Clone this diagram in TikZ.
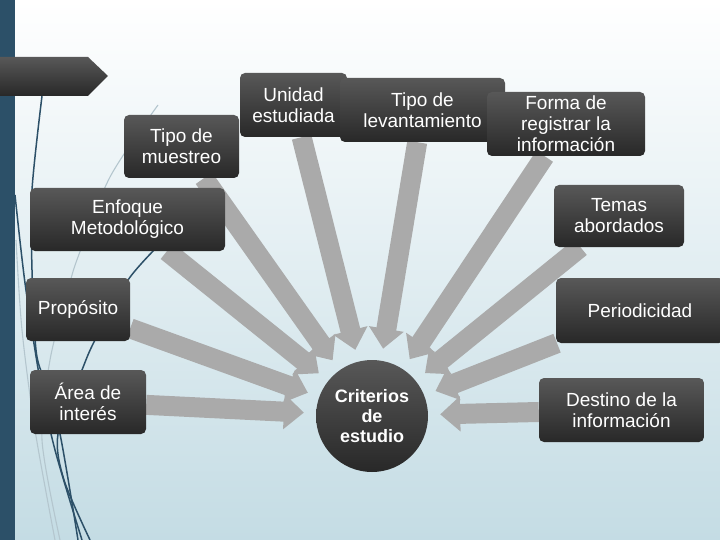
\documentclass[tikz,border=0pt]{standalone}
\usepackage{fontspec}
\setmainfont{Liberation Sans}
\usetikzlibrary{arrows.meta}
\definecolor{stripblue}{RGB}{44,80,104}
\definecolor{boxtop}{RGB}{88,88,88}
\definecolor{boxbot}{RGB}{40,40,40}
\definecolor{arrowgray}{RGB}{170,170,170}
\definecolor{skyend}{RGB}{196,220,228}
\definecolor{thinline}{RGB}{180,198,206}
\pgfdeclarelayer{bg}
\pgfdeclarelayer{arrows}
\pgfsetlayers{bg,arrows,main}
\tikzset{
  tema/.style={rectangle, rounded corners=5pt, top color=boxtop, bottom color=boxbot,
    text=white, align=center, inner sep=0pt, font=\fontsize{19}{21}\selectfont},
  flecha/.style={arrowgray, line width=20pt, -{Triangle[length=20pt, width=34pt]}, shorten >=12pt},
  deco/.style={stripblue, line width=1.5pt},
  decoclaro/.style={thinline, line width=1.1pt}
}
\begin{document}
\begin{tikzpicture}[x=1pt, y=-1pt]
  \useasboundingbox (0,0) rectangle (720,540);
  \begin{pgfonlayer}{bg}
    \shade[top color=white, bottom color=skyend] (0,0) rectangle (720,540);
    \draw[decoclaro] plot[smooth] coordinates {(158,105) (110,177) (78,257) (68,290) (50,360) (42,440) (60,540)};
    \draw[decoclaro] plot[smooth] coordinates {(16,240) (22,330) (35,430) (55,540)};
    \draw[deco] plot[smooth] coordinates {(42,96) (32,190) (32,270) (36,350) (44,380) (60,434) (78,540)};
    \draw[deco] plot[smooth] coordinates {(15,195) (25,283) (40,380) (55,450) (82,540)};
    \draw[deco] plot[smooth] coordinates {(160,244) (128,280) (95,340) (82,370) (58,434) (64,480) (90,540)};
    \fill[stripblue] (0,0) rectangle (15,540);
    \shade[top color=boxtop, bottom color=boxbot] (0,57) -- (88,57) -- (108,76) -- (88,96) -- (0,96) -- cycle;
  \end{pgfonlayer}

  \node[tema, minimum width=115pt, minimum height=63pt] (muestreo) at (181.5,146.5) {Tipo de\\muestreo};
  \node[tema, minimum width=195pt, minimum height=63pt] (enfoque) at (127.5,219.5) {Enfoque\\Metodológico};
  \node[tema, minimum width=107pt, minimum height=64pt] (unidad) at (293.5,105) {Unidad\\estudiada};
  \node[tema, minimum width=165pt, minimum height=64pt] (levant) at (422.5,110) {Tipo de\\levantamiento};
  \node[tema, minimum width=158pt, minimum height=64pt] (forma) at (566,124) {Forma de\\registrar la\\información};
  \node[tema, minimum width=130pt, minimum height=62pt] (temas) at (619,216) {Temas\\abordados};
  \node[tema, minimum width=104pt, minimum height=63pt] (proposito) at (78,309.5) {Propósito};
  \node[tema, minimum width=116pt, minimum height=64pt] (area) at (88,402) {Área de\\interés};
  \node[tema, minimum width=168pt, minimum height=65pt] (periodo) at (640,310.5) {Periodicidad};
  \node[tema, minimum width=165pt, minimum height=64pt] (destino) at (621.5,410) {Destino de la\\información};
  \node[tema, circle, minimum size=112pt, font=\bfseries\fontsize{18}{20}\selectfont] (criterios) at (372,416) {Criterios\\de\\estudio};

  \begin{pgfonlayer}{arrows}
    \foreach \n in {unidad, levant, forma, muestreo, enfoque, proposito, area, temas, periodo, destino}
      \draw[flecha] (\n) -- (criterios);
  \end{pgfonlayer}
\end{tikzpicture}
\end{document}
